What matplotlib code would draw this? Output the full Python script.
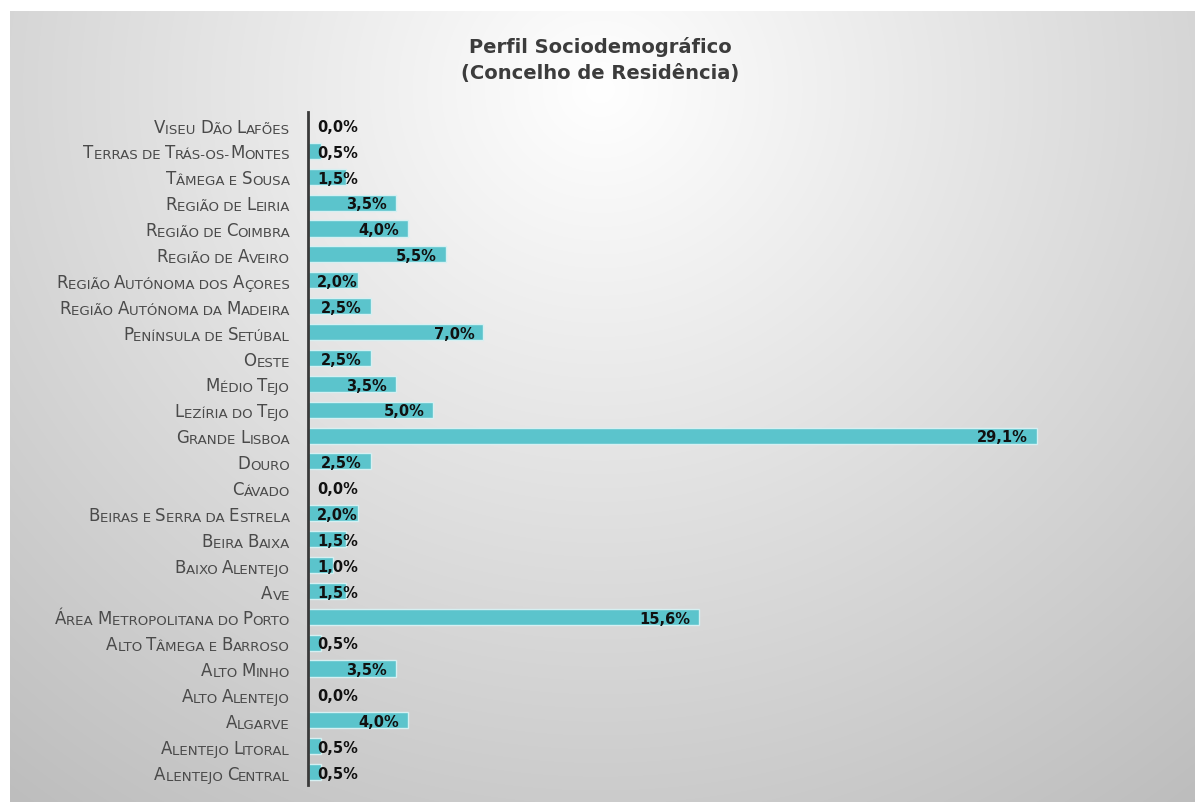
import numpy as np
import matplotlib
matplotlib.use('Agg')
import matplotlib.pyplot as plt

# dados (de cima para baixo)
regioes = ['Viseu Dão Lafões', 'Terras de Trás-os-Montes', 'Tâmega e Sousa',
           'Região de Leiria', 'Região de Coimbra', 'Região de Aveiro',
           'Região Autónoma dos Açores', 'Região Autónoma da Madeira',
           'Península de Setúbal', 'Oeste', 'Médio Tejo', 'Lezíria do Tejo',
           'Grande Lisboa', 'Douro', 'Cávado', 'Beiras e Serra da Estrela',
           'Beira Baixa', 'Baixo Alentejo', 'Ave', 'Área Metropolitana do Porto',
           'Alto Tâmega e Barroso', 'Alto Minho', 'Alto Alentejo', 'Algarve',
           'Alentejo Litoral', 'Alentejo Central']
percent = [0.0, 0.5, 1.5, 3.5, 4.0, 5.5, 2.0, 2.5, 7.0, 2.5, 3.5, 5.0,
           29.1, 2.5, 0.0, 2.0, 1.5, 1.0, 1.5, 15.6, 0.5, 3.5, 0.0, 4.0,
           0.5, 0.5]
titulo = 'Perfil Sociodemográfico\n(Concelho de Residência)'

W, H = 1195, 803
fig = plt.figure(figsize=(W / 100, H / 100), dpi=100)
fig.patch.set_facecolor('white')

# fundo com gradiente radial
bg = fig.add_axes([10 / W, 0, 1 - 10 / W, (H - 12) / H])
xx, yy = np.meshgrid(np.arange(10, W), np.arange(12, H))
d = np.sqrt((xx - 600) ** 2 + ((yy - 90) * 1.05) ** 2)
g = 1.0 - 0.25 * d / 920
g = np.clip(g, 0, 1)
bg.imshow(np.dstack([g, g, g]), aspect='auto', interpolation='bilinear')
bg.set_axis_off()

ax = fig.add_axes([308 / W, 1 - 786 / H, 35 * 25.05 / W, (786 - 113) / H])
ax.set_facecolor('none')
n = len(regioes)
y = np.arange(n)
ax.barh(y, percent, height=0.62, color='#5bc4cc', edgecolor='#d6f0f2', linewidth=1)
ax.set_xlim(0, 35)
ax.set_ylim(n - 0.5, -0.5)
for s in ['top', 'right', 'bottom']:
    ax.spines[s].set_visible(False)
ax.spines['left'].set_color('#3a3a3a')
ax.spines['left'].set_linewidth(2)
ax.set_xticks([])
ax.set_yticks([])

# valores
for i, v in enumerate(percent):
    xr = max(v - 0.35, 2.0)
    ax.text(xr, i + 0.05, ('%.1f%%' % v).replace('.', ','), ha='right', va='center',
            fontsize=10.5, fontweight='bold', family='DejaVu Sans', color='#111111')

# rótulos em versaletes (small caps simulados)
big, small = 12.0, 9.6
def pedacos(txt):
    runs = []
    for ch in txt:
        tipo = 'B' if ch.isupper() else 'S'
        c = ch.upper()
        if runs and runs[-1][0] == tipo:
            runs[-1][1] += c
        else:
            runs.append([tipo, c])
    return runs

ytr = ax.get_yaxis_transform()
for i, lab in enumerate(regioes):
    runs = pedacos(lab)
    prev = None
    for tipo, s in reversed(runs):
        fs = big if tipo == 'B' else small
        if prev is None:
            prev = ax.annotate(s, xy=(0, i), xycoords=ytr, xytext=(-13, -4.0 if tipo == 'B' else -3.0),
                               textcoords='offset points', ha='right', va='center',
                               fontsize=fs, family='DejaVu Sans', color='#4a4a4a')
        else:
            prev = ax.annotate(s, xy=(0, 0), xycoords=prev, ha='right', va='bottom',
                               fontsize=fs, family='DejaVu Sans', color='#4a4a4a')

fig.text(0.502, 1 - 60 / H, titulo, ha='center', va='center', fontsize=14,
         fontweight='bold', family='DejaVu Sans', color='#3c3c3c', linespacing=1.5)

fig.savefig('out.png', dpi=100)
